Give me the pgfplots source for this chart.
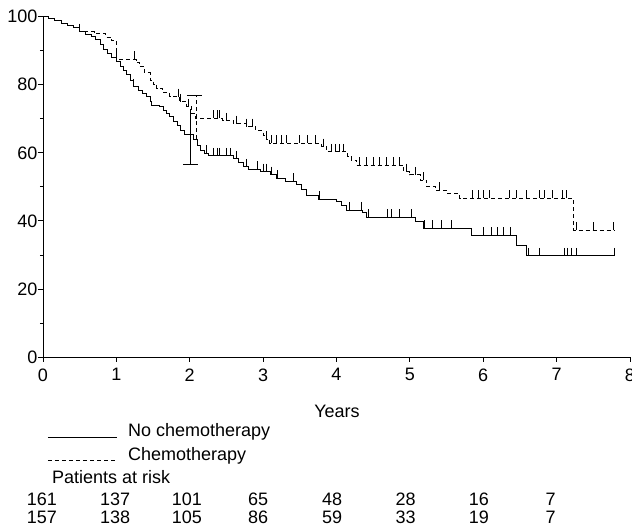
\documentclass[border=0pt]{standalone}
\usepackage{fontspec}
\setmainfont{Liberation Sans}
\usepackage{pgfplots}
\pgfplotsset{compat=1.18}

% Kaplan-Meier estimates
\pgfplotstableread{
x y
0 100
0.08 99.4
0.15 98.8
0.25 98.1
0.33 97.5
0.42 96.9
0.5 95.6
0.58 94.9
0.66 94.2
0.72 93.2
0.78 91.7
0.83 90.4
0.88 89.2
0.93 88.0
1.0 86.8
1.05 85.5
1.09 84.3
1.14 82.9
1.19 81.4
1.23 79.4
1.3 78.3
1.36 77.3
1.41 76.5
1.46 75
1.48 74
1.59 73.5
1.64 72.5
1.68 71.5
1.73 70.6
1.78 69.2
1.83 67.9
1.88 66.6
1.93 65.4
2.05 63.8
2.1 62.3
2.14 60.8
2.2 59.9
2.25 59.1
2.6 58.2
2.67 57.3
2.73 55.9
2.8 55.2
2.96 54.5
3.1 53.6
3.18 52.5
3.3 51.7
3.45 50.6
3.52 49.2
3.59 47.6
3.75 46.4
4.0 45.6
4.07 44.5
4.14 43.2
4.35 42.5
4.41 41
5.07 39.8
5.18 37.8
5.84 35.8
6.45 32.9
6.59 29.7
7.79 29.7
}\nochemo

\pgfplotstableread{
x y
0 100
0.08 99.4
0.15 98.8
0.25 98.1
0.33 97.5
0.42 96.9
0.5 95.6
0.7 95.1
0.85 94
0.93 93
1.0 87.5
1.27 86.5
1.32 85.3
1.38 83.5
1.46 81.4
1.5 80.2
1.55 78.9
1.63 77.7
1.73 76.5
1.86 75
1.96 73.5
2.02 71.6
2.08 70.1
2.45 69.4
2.59 68.6
2.77 67.7
2.9 66.5
3.0 65.2
3.05 64
3.09 62.8
3.8 61.8
3.86 60.3
4.15 58.8
4.2 57.9
4.27 56.4
4.91 54.5
5.0 53.5
5.14 52
5.23 50
5.35 49
5.5 48
5.68 46.6
7.23 37.3
7.79 37.3
}\chemo

% censored observations
\pgfplotstableread{
x y
1.23 79.4
2.23 59.9
2.32 59.1
2.38 59.1
2.41 59.1
2.5 59.1
2.55 59.1
2.64 58.2
2.78 55.9
2.93 55.2
3.0 54.5
3.05 54.5
3.12 53.6
3.19 52.5
3.41 51.7
3.77 46.4
4.18 43.2
4.34 43.2
4.43 41
4.7 41
4.75 41
4.86 41
5.02 41
5.2 37.8
5.31 37.8
5.43 37.8
5.57 37.8
6.01 35.8
6.11 35.8
6.2 35.8
6.28 35.8
6.37 35.8
6.61 29.7
6.77 29.7
7.11 29.7
7.15 29.7
7.2 29.7
7.27 29.7
7.79 29.7
}\nochemocens

\pgfplotstableread{
x y
0.5 95.6
1.0 87.5
1.25 87.5
1.84 76.5
1.87 75
1.98 73.5
2.32 70.1
2.38 70.1
2.41 70.1
2.5 69.4
2.64 68.6
2.77 67.7
2.86 67.7
3.05 64
3.12 62.8
3.18 62.8
3.25 62.8
3.32 62.8
3.5 62.8
3.61 62.8
3.72 62.8
3.82 61.8
3.93 60.3
3.98 60.3
4.04 60.3
4.09 60.3
4.32 56.4
4.41 56.4
4.5 56.4
4.59 56.4
4.68 56.4
4.77 56.4
4.86 56.4
4.95 54.5
5.07 53.5
5.18 52
5.41 49
5.86 46.6
5.93 46.6
6.0 46.6
6.09 46.6
6.36 46.6
6.45 46.6
6.59 46.6
6.77 46.6
6.84 46.6
6.95 46.6
7.08 46.6
7.13 46.6
7.27 37.3
7.5 37.3
7.77 37.3
}\chemocens

\begin{document}
\begin{tikzpicture}
\useasboundingbox (-43pt,-172pt) rectangle (589pt,357pt);
\begin{axis}[
  scale only axis,
  width=587pt, height=340.3pt,
  xmin=0, xmax=8, ymin=0, ymax=100,
  axis x line=bottom, axis y line=left,
  axis line style={-, line width=0.8pt},
  xtick={0,...,8}, ytick={0,20,...,100},
  minor y tick num=1,
  tick align=outside,
  major tick length=5pt, minor tick length=3pt,
  tick style={black, line width=0.8pt},
  tick label style={font=\fontsize{18}{20}\selectfont, /pgf/number format/assume math mode=true},
  yticklabel style={xshift=3pt},
  xticklabel style={yshift=-3pt},
  clip=false,
]
\addplot[const plot, black, line width=0.9pt] table {\nochemo};
\addplot[const plot, black, line width=0.9pt, dash pattern=on 4pt off 3pt] table {\chemo};
\addplot[only marks, mark=|, mark size=4pt, mark options={yshift=4pt, line width=1pt}] table {\nochemocens};
\addplot[only marks, mark=|, mark size=4pt, mark options={yshift=4pt, line width=1pt}] table {\chemocens};
% 95% confidence bars at two years
\addplot[black, line width=0.9pt] coordinates {(2.01,56.7) (2.01,73)};
\addplot[black, line width=0.9pt] coordinates {(1.91,56.7) (2.11,56.7)};
\addplot[black, line width=0.9pt, dash pattern=on 4pt off 3pt] coordinates {(2.09,64) (2.09,76.8)};
\addplot[black, line width=0.9pt] coordinates {(1.96,76.8) (2.17,76.8)};
\end{axis}
\begin{scope}[every node/.style={font=\fontsize{18}{20}\selectfont, inner sep=0pt}]
\node at (294pt,-54.7pt) {Years};
\draw[line width=0.9pt] (5pt,-80pt) -- (74pt,-80pt);
\node[anchor=west] at (85pt,-74.7pt) {No chemotherapy};
\draw[line width=0.9pt, dash pattern=on 4pt off 3pt] (5pt,-103pt) -- (74pt,-103pt);
\node[anchor=west] at (85pt,-98.7pt) {Chemotherapy};
\node[anchor=west] at (9pt,-119.7pt) {Patients at risk};
\foreach \xx/\a/\b in {-16.3/161/157, 57/137/138, 128.7/101/105, 205/65/86, 279/48/59, 352.3/28/33, 425.7/16/19, 502.3/7/7} {
  \node[anchor=west] at (\xx pt,-142.3pt) {\a};
  \node[anchor=west] at (\xx pt,-160.3pt) {\b};
}
\end{scope}
\end{tikzpicture}
\end{document}
